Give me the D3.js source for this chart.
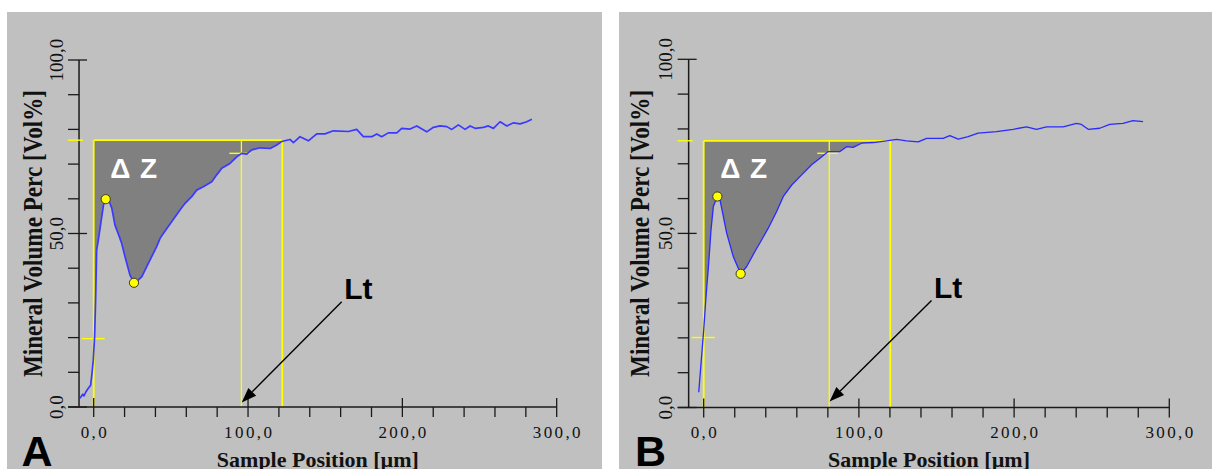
<!DOCTYPE html>
<html>
<head>
<meta charset="utf-8">
<script src="https://cdn.jsdelivr.net/npm/d3@7"></script>
<style>
  body { margin: 0; background: #fff; }
  svg { display: block; }
</style>
</head>
<body>
<div id="chart"></div>
<script>
// profile A (sample position in µm, mineral volume in vol%)
var posA = [-8.9, -7.1, -6.3, -5, -3.5, -2, -1.1, -0.3, 0.6, 1.3, 1.9, 3, 5.2, 6.7, 7.8, 10.1, 11.7, 13.8, 16.6, 18.1, 20.3, 23.5, 26.1,
  28.9, 31.1, 35.4, 40.8, 43, 45.1, 50.5, 55.9, 59.2, 63.5, 66.7, 71, 76.5, 79.7, 83, 88.3, 92.7, 95.9, 99.2, 102.4, 107.8, 114.3,
  118.6, 121.8, 127.2, 129.4, 133.7, 139.1, 144.5, 149.9, 155.3, 165, 170.4, 174.7, 180.2, 183.4, 186.6, 190.9, 196.4, 199.6, 205,
  209.3, 215.8, 220.1, 224.4, 228.8, 232, 236.3, 240.6, 243.9, 247.1, 252.5, 255.7, 259, 263.3, 267.7, 272, 276.3, 280.6, 283.9];
var volA = [2.5, 3.7, 3.2, 4.4, 5.4, 6.3, 9.7, 13.5, 20.3, 31.8, 45.2, 48.1, 54.8, 59.2, 59.9, 59.2, 57.3, 52.4, 49.1, 47.2, 43.3, 38, 35.8,
  36.6, 37.5, 41.4, 46.2, 48.6, 50, 53.4, 56.8, 58.7, 60.6, 62.5, 63.5, 64.9, 66.9, 68.8, 70.2, 72.1, 73.1, 72.9, 74.1, 74.7, 74.5,
  75.5, 76.5, 77.1, 76.2, 77.9, 76.7, 78.7, 78.7, 79.6, 79.4, 80, 77.9, 77.9, 78.7, 77.9, 79, 79, 80.3, 80.1,
  81, 79.3, 80.6, 81, 80.8, 80, 81.3, 80, 81, 80.3, 80.6, 81, 80.3, 82.2, 81, 81.9, 81.6, 82.2, 82.9];

// profile B
var posB = [-3.2, 0, 1.5, 3.2, 4.7, 6.2, 8.8, 10.5, 14.8, 19.1, 23.8, 27.7, 33, 37.3, 41.6, 47, 51.3, 56.7, 63.1, 69.5, 74.9, 80.2,
  87.8, 92.1, 96.3, 101.7, 109.2, 117.8, 124.3, 130.7, 138.2, 143.6, 154.3, 158.6, 164, 170.4, 176.8, 188.7, 199.4, 208, 214.4,
  220.9, 231.6, 240.2, 243.4, 247.7, 255.2, 261.6, 270.2, 276.6, 283.1];
var volB = [4.4, 22.3, 31.9, 41.4, 51, 57.7, 60.6, 59.6, 50.1, 43.3, 38.4, 40.5, 44.8, 48.1, 51.5, 56.3, 60.6, 63.9, 66.8, 69.7, 71.6, 73.5,
  73.5, 74.9, 74.7, 75.9, 76.1, 76.6, 77, 76.6, 76.3, 77.3, 77.3, 78.1, 77.1, 77.8, 78.8, 79.2, 79.9, 80.6, 79.9,
  80.6, 80.6, 81.6, 81.3, 79.9, 80.2, 81.3, 81.6, 82.4, 82.1];

// surface peak and lesion minimum
var extremaPosA = [7.8, 26.1], extremaVolA = [59.9, 35.8];
var extremaPosB = [8.8, 23.8], extremaVolB = [60.6, 38.4];

// evaluation levels: [sound level, 20 % level, 95 % level], positions: [surface, Lt, end of ΔZ]
var levelsA = [76.9, 19.7, 73.1], marksA = [0, 95.7, 122.2];
var levelsB = [76.6, 20.1, 73.0], marksB = [0, 80.9, 120.2];

// annotation arrow: [label x, label y, tip y]
var arrowA = [160.7, 30.3, 1.3], arrowB = [146.8, 30.7, 1.7];

var xMajor = [0, 100, 200, 300];
var xMinor = [20, 40, 60, 80, 120, 140, 160, 180, 220, 240, 260, 280];
var yMajor = [0, 50, 100];
var yMinor = [10, 20, 30, 40, 60, 70, 80, 90];
var fmt = function(v) { return d3.format(".1f")(v).replace(".", ","); };

var width = 1212, height = 469;
var svg = d3.select("#chart").append("svg").attr("width", width).attr("height", height);

var panels = [
  { label: "A", bgX: 7, bgW: 595, xr: [93.7, 556.7], yr: [407, 60], xMin: -9.5, titleX: 42, blue: "#3a3aff", bw: 1.7,
    pos: posA, vol: volA, ePos: extremaPosA, eVol: extremaVolA, levels: levelsA, marks: marksA, arrow: arrowA },
  { label: "B", bgX: 619, bgW: 593, xr: [703.7, 1169.3], yr: [407.5, 59.3], xMin: -9.7, titleX: 649, blue: "#2a2aff", bw: 1.3,
    pos: posB, vol: volB, ePos: extremaPosB, eVol: extremaVolB, levels: levelsB, marks: marksB, arrow: arrowB }
];

function valueAt(pos, vol, t) {
  var i = d3.bisectLeft(pos, t);
  if (i <= 0) return vol[0];
  if (i >= pos.length) return vol[vol.length - 1];
  var k = (t - pos[i - 1]) / (pos[i] - pos[i - 1]);
  return vol[i - 1] + k * (vol[i] - vol[i - 1]);
}

function drawPanel(p) {
  var g = svg.append("g");
  var x = d3.scaleLinear().domain([0, 300]).range(p.xr);
  var y = d3.scaleLinear().domain([0, 100]).range(p.yr);
  var x0 = x(p.xMin);
  var top = p.levels[0];

  g.append("rect").attr("x", p.bgX).attr("y", 12).attr("width", p.bgW).attr("height", height - 12).attr("fill", "#c0c0c0");

  // ΔZ area between sound level and profile
  var seg = [[p.marks[0], valueAt(p.pos, p.vol, p.marks[0])]];
  p.pos.forEach(function(v, i) { if (v > p.marks[0] && v < p.marks[2]) seg.push([v, p.vol[i]]); });
  seg.push([p.marks[2], valueAt(p.pos, p.vol, p.marks[2])]);
  g.append("path")
    .attr("d", d3.area().x(function(d) { return x(d[0]); }).y0(y(top)).y1(function(d) { return y(Math.min(d[1], top)); })(seg))
    .attr("fill", "#808080");

  // yellow evaluation lines
  g.append("line").attr("x1", x(p.marks[0])).attr("x2", x(p.marks[2])).attr("y1", y(top)).attr("y2", y(top))
    .attr("stroke", "#ffff00").attr("stroke-width", 1.8);
  g.selectAll(".vl").data(p.marks).enter().append("line")
    .attr("x1", function(d) { return x(d); }).attr("x2", function(d) { return x(d); })
    .attr("y1", y(top)).attr("y2", y(0))
    .attr("stroke", "#ffff00").attr("stroke-width", function(d, i) { return i == 1 ? 1.3 : 1.8; });

  // axes
  var axisCol = "#1a1a1a";
  g.append("line").attr("x1", x0).attr("x2", x0).attr("y1", y(100)).attr("y2", y(0)).attr("stroke", axisCol).attr("stroke-width", 1.5);
  g.append("line").attr("x1", x0 - 11).attr("x2", x(300)).attr("y1", y(0)).attr("y2", y(0)).attr("stroke", axisCol).attr("stroke-width", 1.5);
  g.selectAll(".ymin").data(yMinor).enter().append("line")
    .attr("x1", x0 - 11).attr("x2", x0).attr("y1", function(d) { return y(d); }).attr("y2", function(d) { return y(d); })
    .attr("stroke", axisCol).attr("stroke-width", 1.3);
  g.selectAll(".ymaj").data(yMajor).enter().append("line")
    .attr("x1", x0 - 11).attr("x2", x0 + 8).attr("y1", function(d) { return y(d); }).attr("y2", function(d) { return y(d); })
    .attr("stroke", axisCol).attr("stroke-width", 1.3);
  g.selectAll(".xmin").data(xMinor).enter().append("line")
    .attr("x1", function(d) { return x(d); }).attr("x2", function(d) { return x(d); }).attr("y1", y(0)).attr("y2", y(0) + 10)
    .attr("stroke", axisCol).attr("stroke-width", 1.3);
  g.selectAll(".xmaj").data(xMajor).enter().append("line")
    .attr("x1", function(d) { return x(d); }).attr("x2", function(d) { return x(d); }).attr("y1", y(0) - 9).attr("y2", y(0) + 10)
    .attr("stroke", axisCol).attr("stroke-width", 1.3);

  g.selectAll(".xlab").data(xMajor).enter().append("text")
    .attr("x", function(d) { return x(d) + 1.2; }).attr("y", 438)
    .attr("text-anchor", "middle").attr("font-family", "Liberation Serif").attr("font-size", 17)
    .attr("letter-spacing", 2.4).attr("fill", "#111").text(fmt);
  g.selectAll(".ylab").data(yMajor).enter().append("text")
    .attr("transform", function(d) { return "translate(" + (x0 - 16.5) + "," + y(d) + ") rotate(-90)"; })
    .attr("text-anchor", "middle").attr("font-family", "Liberation Serif").attr("font-size", 19)
    .attr("fill", "#111").text(fmt);

  g.append("text").attr("x", (x0 + x(300)) / 2).attr("y", 466.5).attr("text-anchor", "middle")
    .attr("font-family", "Liberation Serif").attr("font-weight", "bold").attr("font-size", 22)
    .attr("textLength", 202).attr("lengthAdjust", "spacingAndGlyphs").attr("fill", "#111")
    .text("Sample Position [µm]");
  g.append("text").attr("transform", "translate(" + p.titleX + "," + y(50) + ") rotate(-90)").attr("text-anchor", "middle")
    .attr("font-family", "Liberation Serif").attr("font-weight", "bold").attr("font-size", 28)
    .attr("textLength", 287).attr("lengthAdjust", "spacingAndGlyphs").attr("fill", "#111")
    .text("Mineral Volume Perc [Vol%]");

  // small yellow markers
  var tick = function(cx, cy, l, r) {
    g.append("line").attr("x1", cx - l).attr("x2", cx + r).attr("y1", cy).attr("y2", cy)
      .attr("stroke", "#ffff00").attr("stroke-width", 1.4);
  };
  tick(x0, y(top), 11, 4);
  tick(x(p.marks[0]), y(p.levels[1]), 12, 11);
  tick(x(p.marks[1]), y(p.levels[2]), 12, 9);

  // profile
  g.append("path")
    .attr("d", d3.line().x(function(d, i) { return x(p.pos[i]); }).y(function(d) { return y(d); })(p.vol))
    .attr("fill", "none").attr("stroke", p.blue).attr("stroke-width", p.bw).attr("stroke-linejoin", "round");

  g.selectAll(".ext").data(p.eVol).enter().append("circle")
    .attr("cx", function(d, i) { return x(p.ePos[i]); }).attr("cy", function(d) { return y(d); }).attr("r", 4.6)
    .attr("fill", "#ffff00").attr("stroke", "#3a3a20").attr("stroke-width", 1);

  // labels
  g.append("text").attr("x", x(p.marks[0]) + 16.5).attr("y", 178).attr("font-family", "Liberation Sans")
    .attr("font-weight", "bold").attr("font-size", 28).attr("letter-spacing", 1).attr("fill", "#fff").text("Δ Z");

  var ax = x(p.arrow[0]), ay = y(p.arrow[1]), tx = x(p.marks[1]) + 0.3, ty = y(p.arrow[2]);
  g.append("text").attr("x", ax + 2.5).attr("y", ay - 3).attr("font-family", "Liberation Sans")
    .attr("font-weight", "bold").attr("font-size", 30).attr("fill", "#000").text("Lt");
  var ang = Math.atan2(ty - ay, tx - ax);
  var hl = 15, hw = 5.5;
  var bx = tx - hl * Math.cos(ang), by = ty - hl * Math.sin(ang);
  g.append("line").attr("x1", ax).attr("y1", ay).attr("x2", bx).attr("y2", by).attr("stroke", "#000").attr("stroke-width", 1.4);
  g.append("path")
    .attr("d", "M" + tx + "," + ty +
      "L" + (bx + hw * Math.sin(ang)) + "," + (by - hw * Math.cos(ang)) +
      "L" + (bx - hw * Math.sin(ang)) + "," + (by + hw * Math.cos(ang)) + "Z")
    .attr("fill", "#000");

  g.append("text").attr("x", p.bgX + 14.5 + (p.label == "B" ? 1.5 : 0)).attr("y", 466).attr("font-family", "Liberation Sans")
    .attr("font-weight", "bold").attr("font-size", 43).attr("fill", "#000").text(p.label);
}

panels.forEach(drawPanel);
</script>
</body>
</html>
